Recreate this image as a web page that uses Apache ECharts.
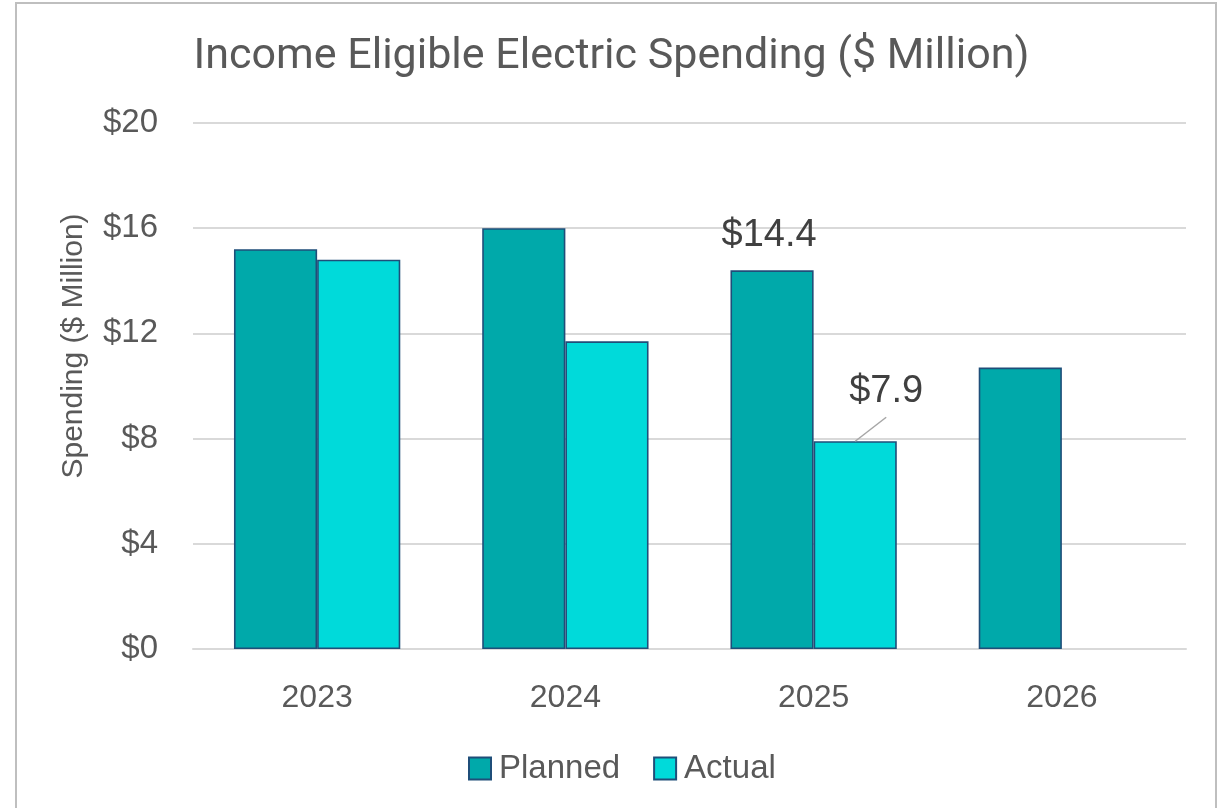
<!DOCTYPE html>
<html>
<head>
<meta charset="utf-8">
<script src="https://cdn.jsdelivr.net/npm/echarts@6/dist/echarts.min.js"></script>
<style>
  html, body { margin: 0; padding: 0; background: #ffffff; }
  #chart { width: 1223px; height: 808px; }
</style>
</head>
<body>
<div id="chart"></div>
<script>
// Income eligible electric spending, $ million
const years = ['2023', '2024', '2025', '2026'];
const planned = [15.2, 16.0, 14.4, 10.7];
const actual = [14.8, 11.7, 7.9, null];
const yTicks = [0, 4, 8, 12, 16, 20];
// Only the 2025 values carry a data label
const labelledYear = '2025';

const chart = echarts.init(document.getElementById('chart'), null, { renderer: 'canvas' });

const FONT = 'Liberation Sans';
const TEXT = '#595959';

// Offset of the moved Actual label, and of its leader line end from the bar top
const ACTUAL_LABEL_SHIFT = { dx: 31, dy: -26 };
const LEADER_END = { dx: 31, dy: -24 };

function withLabels(values, labelOpts) {
  return values.map((v, i) => {
    if (v === null) return null;
    if (years[i] !== labelledYear) return v;
    return { value: v, label: Object.assign({ show: true }, labelOpts) };
  });
}

const labelText = {
  formatter: (p) => '$' + p.value.toFixed(1),
  fontFamily: FONT,
  fontSize: 38,
  color: '#404040',
  position: 'top'
};

const frame = {
  type: 'rect',
  shape: { x: 16, y: 3, width: 1200, height: 820 },
  style: { fill: 'none', stroke: '#bfbfbf', lineWidth: 2 },
  silent: true
};

chart.setOption({
  animation: false,
  backgroundColor: '#ffffff',
  graphic: [frame],
  title: {
    text: 'Income Eligible Electric Spending ($ Million)',
    left: 'center',
    top: 31,
    textStyle: { fontFamily: 'Roboto', fontWeight: 'normal', fontSize: 43, color: TEXT }
  },
  legend: {
    data: ['Planned', 'Actual'],
    bottom: 18,
    left: 463,
    itemWidth: 22,
    itemHeight: 22,
    itemGap: 33,
    icon: 'rect',
    textStyle: { fontFamily: FONT, fontSize: 33, color: TEXT, padding: [0, 0, 0, 3] }
  },
  grid: { left: 193, right: 37, top: 123, bottom: 159 },
  xAxis: {
    type: 'category',
    data: years,
    axisTick: { show: false },
    axisLine: { lineStyle: { color: '#d9d9d9', width: 2 } },
    axisLabel: { fontFamily: FONT, fontSize: 32, color: TEXT, margin: 33 }
  },
  yAxis: {
    type: 'value',
    min: yTicks[0],
    max: yTicks[yTicks.length - 1],
    interval: 4,
    name: 'Spending ($ Million)',
    nameLocation: 'middle',
    nameGap: 104,
    nameRotate: 90,
    nameTextStyle: { fontFamily: FONT, fontSize: 30, color: TEXT, padding: [0, 0, 0, 80] },
    axisLine: { show: false },
    axisTick: { show: false },
    splitLine: { lineStyle: { color: '#d9d9d9', width: 2 } },
    axisLabel: { fontFamily: FONT, fontSize: 33, color: TEXT, margin: 35, formatter: (v) => '$' + v }
  },
  series: [
    {
      name: 'Planned',
      type: 'bar',
      barGap: '0%',
      barCategoryGap: '33%',
      itemStyle: { color: '#00a9aa', borderColor: '#1f4e79', borderWidth: 1.6 },
      data: withLabels(planned, Object.assign({}, labelText, { distance: 16, offset: [-3, 0] }))
    },
    {
      name: 'Actual',
      type: 'bar',
      itemStyle: { color: '#00dada', borderColor: '#1f4e79', borderWidth: 1.6 },
      labelLayout: ACTUAL_LABEL_SHIFT,
      data: withLabels(actual, Object.assign({}, labelText, { distance: 5 }))
    }
  ]
});

// Leader line from the top centre of the labelled Actual bar to its moved label
const actualIdx = years.indexOf(labelledYear);
const barLayout = chart.getModel().getSeriesByIndex(1).getData().getItemLayout(actualIdx);
if (barLayout) {
  const x0 = barLayout.x + barLayout.width / 2;
  const y0 = Math.min(barLayout.y, barLayout.y + barLayout.height);
  chart.setOption({
    graphic: [frame, {
      type: 'line',
      silent: true,
      z: 10,
      shape: { x1: x0, y1: y0, x2: x0 + LEADER_END.dx, y2: y0 + LEADER_END.dy },
      style: { stroke: '#a6a6a6', lineWidth: 1.5 }
    }]
  });
}
</script>
</body>
</html>
